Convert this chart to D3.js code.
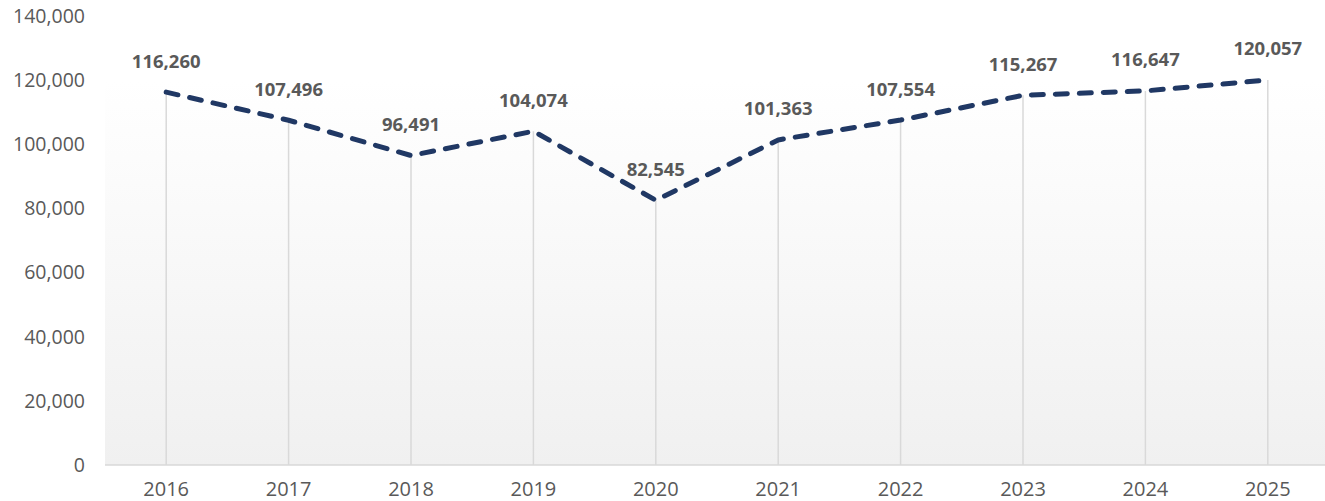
<!DOCTYPE html>
<html>
<head>
<meta charset="utf-8">
<title></title>
<style>
  body { margin: 0; background: #fff; }
  svg { display: block; }
</style>
</head>
<body>
<svg id="chart"></svg>
<script src="https://d3js.org/d3.v7.min.js"></script>
<script>
const years = ["2016", "2017", "2018", "2019", "2020", "2021", "2022", "2023", "2024", "2025"];
const values = [116260, 107496, 96491, 104074, 82545, 101363, 107554, 115267, 116647, 120057];
const yTicks = [0, 20000, 40000, 60000, 80000, 100000, 120000, 140000];

const width = 1325, height = 501;
const margin = {top: 16, right: -4, bottom: 36, left: 105};

const svg = d3.select("#chart").attr("width", width).attr("height", height);

const x = d3.scalePoint().domain(years).range([margin.left, width - margin.right]).padding(0.5);
const y = d3.scaleLinear().domain([0, 140000]).range([height - margin.bottom, margin.top]);

const fmt = d3.format(",");
const font = "'Open Sans', sans-serif";

// background gradient of plot area
const defs = svg.append("defs");
const grad = defs.append("linearGradient").attr("id", "bg").attr("x1", 0).attr("y1", 0).attr("x2", 0).attr("y2", 1);
grad.append("stop").attr("offset", "0%").attr("stop-color", "#ffffff");
grad.append("stop").attr("offset", "100%").attr("stop-color", "#f0f0f0");

svg.append("rect")
    .attr("x", margin.left)
    .attr("y", y(120000))
    .attr("width", width - margin.left)
    .attr("height", y(0) - y(120000))
    .attr("fill", "url(#bg)");

// y axis labels
svg.append("g")
    .selectAll("text")
    .data(yTicks)
    .join("text")
      .attr("x", 85)
      .attr("y", d => y(d))
      .attr("dy", "0.35em")
      .attr("text-anchor", "end")
      .style("font", `19.5px ${font}`)
      .attr("fill", "#595959")
      .text(d => fmt(d));

// x axis line
svg.append("line")
    .attr("x1", margin.left).attr("x2", width)
    .attr("y1", y(0)).attr("y2", y(0))
    .attr("stroke", "#d9d9d9").attr("stroke-width", 1.5);

// x labels
svg.append("g")
    .selectAll("text")
    .data(years)
    .join("text")
      .attr("x", d => x(d))
      .attr("y", y(0) + 24)
      .attr("dy", "0.35em")
      .attr("text-anchor", "middle")
      .style("font", `20px ${font}`)
      .attr("fill", "#595959")
      .text(d => d);

// drop lines
svg.append("g")
    .selectAll("line")
    .data(years)
    .join("line")
      .attr("x1", d => x(d)).attr("x2", d => x(d))
      .attr("y1", (d, i) => y(values[i])).attr("y2", y(0))
      .attr("stroke", "#d9d9d9").attr("stroke-width", 1.5);

// dashed line
const line = d3.line().x(d => x(d[0])).y(d => y(d[1]));
svg.append("path")
    .datum(years.map((d, i) => [d, values[i]]))
    .attr("d", line)
    .attr("fill", "none")
    .attr("stroke", "#203864")
    .attr("stroke-width", 5)
    .attr("stroke-linecap", "round")
    .attr("stroke-linejoin", "round")
    .attr("stroke-dasharray", "12,12");

// data labels
svg.append("g")
    .selectAll("text")
    .data(years)
    .join("text")
      .attr("x", d => x(d))
      .attr("y", (d, i) => y(values[i]) - 31)
      .attr("dy", "0.35em")
      .attr("text-anchor", "middle")
      .style("font", `bold 18.5px ${font}`)
      .attr("fill", "#595959")
      .text((d, i) => fmt(values[i]));
</script>
</body>
</html>
